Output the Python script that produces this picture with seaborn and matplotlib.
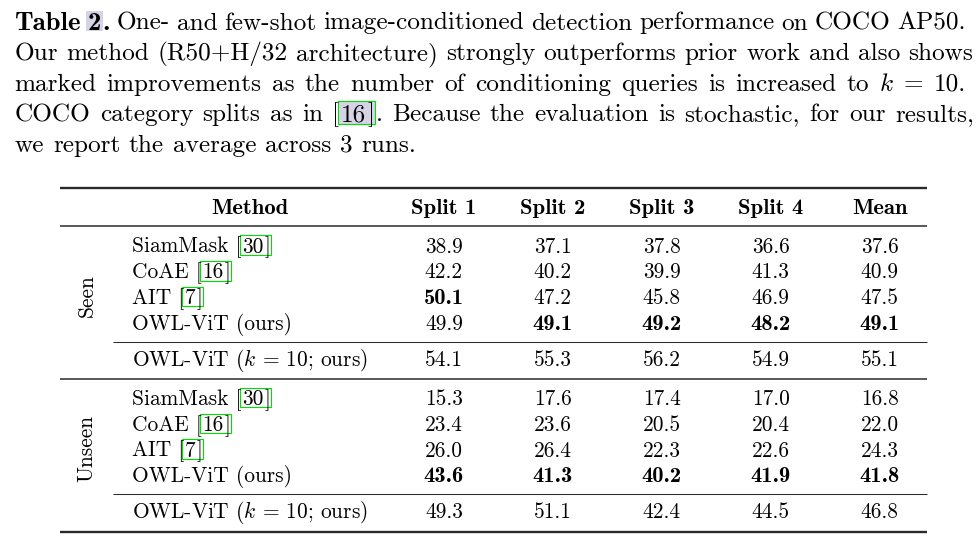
# -*- coding: utf-8 -*-
"""
Table 2 — one/few-shot image-conditioned detection (COCO AP50), drawn as a figure.
"""
import numpy as np
import pandas as pd
import matplotlib
matplotlib.use('Agg')
import matplotlib.pyplot as plt
from matplotlib.colors import ListedColormap
from matplotlib.patches import Rectangle
import seaborn as sns

# ------------------------------------------------------------
#  数据
# ------------------------------------------------------------
SPLITS = ['Split 1', 'Split 2', 'Split 3', 'Split 4', 'Mean']
METHODS = ['SiamMask', 'CoAE', 'AIT', 'OWL-ViT (ours)']
METHOD_REFS = ['30', '16', '7', None]
K10_METHOD = 'OWL-ViT ($k$ = 10; ours)'
GROUPS = ['Seen', 'Unseen']

SEEN = [[38.9, 37.1, 37.8, 36.6, 37.6],
        [42.2, 40.2, 39.9, 41.3, 40.9],
        [50.1, 47.2, 45.8, 46.9, 47.5],
        [49.9, 49.1, 49.2, 48.2, 49.1]]
SEEN_K10 = [[54.1, 55.3, 56.2, 54.9, 55.1]]
UNSEEN = [[15.3, 17.6, 17.4, 17.0, 16.8],
          [23.4, 23.6, 20.5, 20.4, 22.0],
          [26.0, 26.4, 22.3, 22.6, 24.3],
          [43.6, 41.3, 40.2, 41.9, 41.8]]
UNSEEN_K10 = [[49.3, 51.1, 42.4, 44.5, 46.8]]

CAPTION = [
    [[('Table', 'b')], [('2', 'b_hl'), ('.', 'b')],
     'One-', 'and', 'few-shot', 'image-conditioned', 'detection',
     'performance', 'on', 'COCO', 'AP50.'],
    'Our method (R50+H/32 architecture) strongly outperforms prior work and also shows'.split(),
    'marked improvements as the number of conditioning queries is increased to $k$ = 10.'.split(),
    'COCO category splits as in'.split()
    + [[('[', 'r'), ('16', 'cite_hl'), (']', 'r'), ('.', 'r')]]
    + 'Because the evaluation is stochastic, for our results,'.split(),
    'we report the average across 3 runs.'.split(),
]

# ------------------------------------------------------------
#  版式
# ------------------------------------------------------------
W, H = 979, 540
REG, BOLD = 'cmr10', 'cmb10'
CAP_PT, TAB_PT = 18.2, 15.4
BOLD_SCALE = 1.06
CAP_EM, TAB_EM = CAP_PT * 100 / 72, TAB_PT * 100 / 72
GLUE = 0.05
GREEN = '#00e000'
HL = '#d4d4e6'
RULE = '#2b2b2b'

sns.set_theme(style='white')
plt.rcParams['font.family'] = [REG, 'DejaVu Serif']
plt.rcParams['mathtext.fontset'] = 'cm'
plt.rcParams['axes.unicode_minus'] = False

fig = plt.figure(figsize=(W / 100, H / 100), dpi=100)
ax = fig.add_axes([0, 0, 1, 1])
ax.set_xlim(0, W)
ax.set_ylim(H, 0)
ax.axis('off')
renderer = fig.canvas.get_renderer()


def make_segments(segs, y, size):
    texts, widths = [], []
    for s, st in segs:
        bold = st.startswith('b')
        t = ax.text(0, y, s, family=BOLD if bold else REG,
                    fontsize=size * (BOLD_SCALE if bold else 1), ha='left',
                    va='baseline', color='black', zorder=3)
        texts.append(t)
        widths.append(t.get_window_extent(renderer).width)
    return texts, widths


def place_segments(texts, widths, styles, x, y, em):
    glue = GLUE * em
    spans = []
    for t, w in zip(texts, widths):
        t.set_x(x)
        spans.append((x, x + w))
        x += w + glue
    for i, st in enumerate(styles):
        if st.startswith('cite'):
            x0 = spans[i - 1][1] - 1.5
            x1 = spans[i + 1][1] + 0.5
            top, bot = y - 0.8 * em, y + 0.1 * em
            ax.add_patch(Rectangle((x0, top), x1 - x0, bot - top,
                                   facecolor=HL if st.endswith('hl') else 'none',
                                   edgecolor=GREEN, lw=0.8, zorder=1))
        elif st.endswith('hl'):
            x0, x1 = spans[i]
            ax.add_patch(Rectangle((x0 - 1.5, y - 0.74 * em), x1 - x0 + 3,
                                   0.8 * em, facecolor=HL, lw=0, zorder=1))
    return x - glue


# ---- 标题（两端对齐，末行自然间距） ----
CAP_LEFT = 14.5
CAP_RIGHT = [966, 973, 966, 974, None]
CAP_BASE0, CAP_STEP = 29.5, 30.55

for li, words in enumerate(CAPTION):
    y = CAP_BASE0 + li * CAP_STEP
    built = []
    for wd in words:
        segs = wd if isinstance(wd, list) else [(wd, 'r')]
        texts, widths = make_segments(segs, y, CAP_PT)
        glue = GLUE * CAP_EM * (len(segs) - 1)
        built.append((texts, widths, [s[1] for s in segs], sum(widths) + glue))
    total = sum(b[3] for b in built)
    if CAP_RIGHT[li] is None:
        gap = 0.35 * CAP_EM
    else:
        gap = (CAP_RIGHT[li] - CAP_LEFT - total) / (len(built) - 1)
    x = CAP_LEFT
    for texts, widths, styles, wtot in built:
        place_segments(texts, widths, styles, x, y, CAP_EM)
        x += wtot + gap

# ---- 表格线 ----
TAB_L, TAB_R, SUB_L = 60.5, 927, 113
ax.hlines(188, TAB_L, TAB_R, color=RULE, lw=1.7)
ax.hlines(225.7, TAB_L, TAB_R, color=RULE, lw=1.1)
ax.hlines(341.7, SUB_L, TAB_R, color=RULE, lw=0.75)
ax.hlines(379.3, TAB_L, TAB_R, color=RULE, lw=1.1)
ax.hlines(494, SUB_L, TAB_R, color=RULE, lw=0.75)
ax.hlines(532.3, TAB_L, TAB_R, color=RULE, lw=1.7)

# ---- 表头 ----
COL_C, COL_W = 661.8, 108.95
col_x = COL_C + (np.arange(len(SPLITS)) - (len(SPLITS) - 1) / 2) * COL_W
HEAD_Y = 213.5
ax.text(250, HEAD_Y, 'Method', family=BOLD, fontsize=TAB_PT * BOLD_SCALE,
        ha='center', va='baseline', color='black')
for cx, name in zip(col_x, SPLITS):
    ax.text(cx, HEAD_Y, name, family=BOLD, fontsize=TAB_PT * BOLD_SCALE,
            ha='center', va='baseline', color='black')

# ---- 数值块（seaborn 热力图，透明底色 + 注释） ----
ROW = 25.8
CLEAR = ListedColormap([(1, 1, 1, 0)])


def number_block(values, first_base, bold_best):
    vals = np.array(values, dtype=float)
    n = len(vals)
    left = col_x[0] - COL_W / 2
    top = first_base - ROW / 2
    bax = fig.add_axes([left / W, 1 - (top + n * ROW) / H,
                        len(SPLITS) * COL_W / W, n * ROW / H])
    bax.patch.set_alpha(0)
    df = pd.DataFrame(vals, columns=SPLITS)
    sns.heatmap(df, ax=bax, cmap=CLEAR, cbar=False, annot=True, fmt='.1f',
                xticklabels=False, yticklabels=False,
                annot_kws=dict(va='baseline', fontsize=TAB_PT,
                               color='black', family=REG))
    if bold_best:
        best = vals == vals.max(axis=0, keepdims=True)
        for t, b in zip(bax.texts, best.flat):
            if b:
                t.set_fontfamily(BOLD)
                t.set_fontsize(TAB_PT * BOLD_SCALE)
    bax.set_xlabel('')
    bax.set_ylabel('')


def method_rows(first_base):
    for i, (m, ref) in enumerate(zip(METHODS, METHOD_REFS)):
        y = first_base + i * ROW
        segs = [(m + ' [', 'r'), (ref, 'cite'), (']', 'r')] if ref else [(m, 'r')]
        texts, widths = make_segments(segs, y, TAB_PT)
        place_segments(texts, widths, [s[1] for s in segs], 131.7, y, TAB_EM)


blocks = [(SEEN, SEEN_K10, 252.6, 366.0),
          (UNSEEN, UNSEEN_K10, 405.0, 518.3)]
for g, (vals, k10, base, kbase) in zip(GROUPS, blocks):
    number_block(vals, base, True)
    number_block(k10, kbase, False)
    method_rows(base)
    ax.text(131.7, kbase, K10_METHOD, family=REG, fontsize=TAB_PT,
            ha='left', va='baseline', color='black')
    ax.text(87, base + 1.68 * ROW, g, family=REG, fontsize=TAB_PT,
            rotation=90, ha='center', va='center', color='black')

fig.savefig('out.png', dpi=100)
plt.close(fig)
